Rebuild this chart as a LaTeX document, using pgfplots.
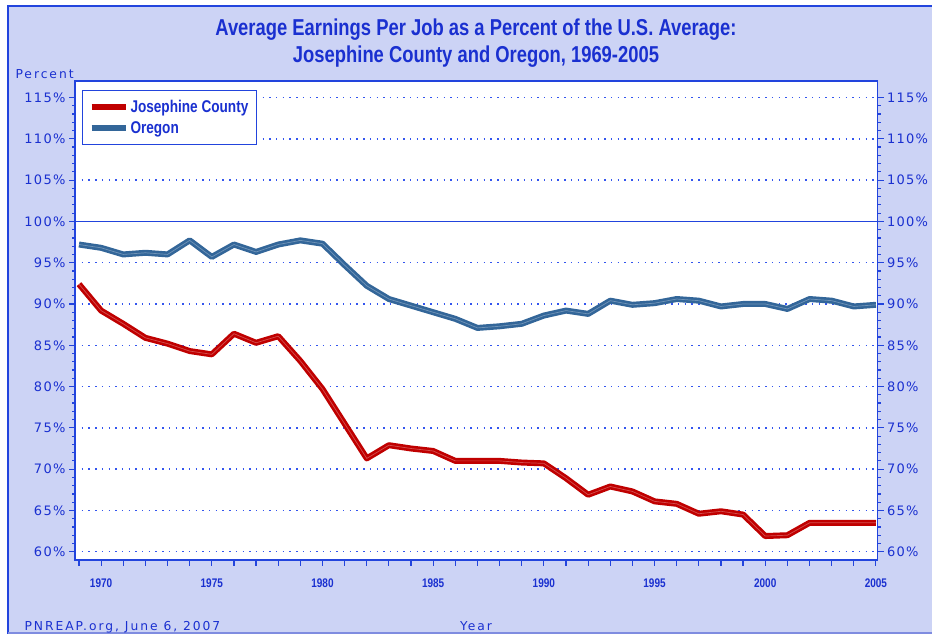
\documentclass[border=0pt]{standalone}
\usepackage{pgfplots}
\pgfplotsset{compat=1.18}
\usepackage{fontspec}
\setmainfont{DejaVu Sans}
\newfontfamily\condfont[FakeStretch=0.8]{Liberation Sans}
\newfontfamily\tickfont[LetterSpace=10]{DejaVu Sans}
\newfontfamily\footfont[LetterSpace=16]{DejaVu Sans}
\definecolor{bg}{HTML}{CCD3F5}
\definecolor{txtblue}{HTML}{1A30D0}
\definecolor{axblue}{HTML}{2244DD}
\definecolor{josred}{HTML}{C00000}
\definecolor{orblue}{HTML}{336699}
\definecolor{gridblue}{HTML}{3355EE}
\definecolor{botline}{HTML}{7F8CE0}
\begin{document}
\begin{tikzpicture}[x=1pt,y=1pt]
\useasboundingbox (0,0) rectangle (932,634);
\fill[white] (0,0) rectangle (932,634);
\fill[bg] (7,0) rectangle (932,629);
\draw[axblue, line width=2pt] (8,0) -- (8,628) -- (932,628);
\draw[botline, line width=2pt] (8,1) -- (932,1);
% titles
\node[anchor=base, text=txtblue, font=\condfont\bfseries\fontsize{23}{23}\selectfont] at (476,634-36) {Average Earnings Per Job as a Percent of the U.S. Average:};
\node[anchor=base, text=txtblue, font=\condfont\bfseries\fontsize{23}{23}\selectfont] at (476,634-63) {Josephine County and Oregon, 1969-2005};
\node[anchor=base west, text=txtblue, font=\footfont\fontsize{12.3}{12.3}\selectfont] at (12,634-79) {Percent};
\node[anchor=base west, text=txtblue, font=\footfont\fontsize{12.3}{12.3}\selectfont] at (21,634-631) {PNREAP.org, June 6, 2007};
\node[anchor=base, text=txtblue, font=\footfont\fontsize{12.3}{12.3}\selectfont] at (476,634-631) {Year};
\begin{axis}[
  at={(75pt,74pt)}, anchor=south west, scale only axis,
  width=802.5pt, height=479pt,
  xmin=1968.82, xmax=2005.07, ymin=59, ymax=117,
  axis background/.style={fill=white},
  axis line style={axblue, line width=1.2pt},
  xtick={1969,...,2005},
  xticklabels={,1970,,,,,1975,,,,,1980,,,,,1985,,,,,1990,,,,,1995,,,,,2000,,,,,2005},
  ytick={60,65,...,115},
  yticklabels={60\%,65\%,70\%,75\%,80\%,85\%,90\%,95\%,100\%,105\%,110\%,115\%},
  minor y tick num=4,
  xtick pos=bottom, ytick pos=left, tick align=outside,
  major tick length=6pt, minor tick length=3pt,
  tick style={axblue, line width=1.2pt},
  ymajorgrids,
  major grid style={gridblue, line width=1.4pt, dash pattern=on 1.4pt off 5.3pt},
  extra y ticks={100}, extra y tick labels={},
  extra y tick style={grid=major, major grid style={axblue, solid, line width=1.2pt}},
  x tick label style={text=txtblue, font=\condfont\bfseries\fontsize{12.5}{12.5}\selectfont, yshift=-9pt},
  y tick label style={text=txtblue, font=\tickfont\fontsize{13}{13}\selectfont},
  legend style={at={(7pt,470pt)}, anchor=north west, draw=axblue, line width=1pt,
    fill=white, text=txtblue, font=\condfont\bfseries\fontsize{17}{17}\selectfont,
    inner xsep=6pt, inner ysep=8pt, row sep=3pt, legend cell align=left},
  legend image code/.code={\draw[#1, line width=6pt, opacity=1] (0pt,0pt) -- (34pt,0pt);},
]
\addplot[josred, line width=6pt, line join=round] coordinates {
(1969,92.4) (1970,89.2) (1971,87.6) (1972,85.9) (1973,85.2) (1974,84.3) (1975,83.9)
(1976,86.4) (1977,85.3) (1978,86.1) (1979,83.1) (1980,79.7) (1981,75.5) (1982,71.3)
(1983,72.9) (1984,72.5) (1985,72.2) (1986,71.0) (1987,71.0) (1988,71.0) (1989,70.8)
(1990,70.7) (1991,68.9) (1992,66.9) (1993,67.9) (1994,67.3) (1995,66.1) (1996,65.8)
(1997,64.6) (1998,64.9) (1999,64.5) (2000,61.9) (2001,62.0) (2002,63.5) (2003,63.5)
(2004,63.5) (2005,63.5)};
\addlegendentry{Josephine County}
\addplot[orblue, line width=6pt, line join=round] coordinates {
(1969,97.2) (1970,96.8) (1971,96.0) (1972,96.2) (1973,96.0) (1974,97.7) (1975,95.7)
(1976,97.2) (1977,96.3) (1978,97.2) (1979,97.7) (1980,97.3) (1981,94.7) (1982,92.2)
(1983,90.6) (1984,89.8) (1985,89.0) (1986,88.2) (1987,87.1) (1988,87.3) (1989,87.6)
(1990,88.6) (1991,89.2) (1992,88.8) (1993,90.4) (1994,89.9) (1995,90.1) (1996,90.6)
(1997,90.4) (1998,89.7) (1999,90.0) (2000,90.0) (2001,89.4) (2002,90.6) (2003,90.4)
(2004,89.7) (2005,89.9)};
\addlegendentry{Oregon}
\addplot[white, opacity=0.3, line width=0.7pt, forget plot] coordinates {
(1969,92.4) (1970,89.2) (1971,87.6) (1972,85.9) (1973,85.2) (1974,84.3) (1975,83.9)
(1976,86.4) (1977,85.3) (1978,86.1) (1979,83.1) (1980,79.7) (1981,75.5) (1982,71.3)
(1983,72.9) (1984,72.5) (1985,72.2) (1986,71.0) (1987,71.0) (1988,71.0) (1989,70.8)
(1990,70.7) (1991,68.9) (1992,66.9) (1993,67.9) (1994,67.3) (1995,66.1) (1996,65.8)
(1997,64.6) (1998,64.9) (1999,64.5) (2000,61.9) (2001,62.0) (2002,63.5) (2003,63.5)
(2004,63.5) (2005,63.5)};
\addplot[white, opacity=0.3, line width=0.7pt, forget plot] coordinates {
(1969,97.2) (1970,96.8) (1971,96.0) (1972,96.2) (1973,96.0) (1974,97.7) (1975,95.7)
(1976,97.2) (1977,96.3) (1978,97.2) (1979,97.7) (1980,97.3) (1981,94.7) (1982,92.2)
(1983,90.6) (1984,89.8) (1985,89.0) (1986,88.2) (1987,87.1) (1988,87.3) (1989,87.6)
(1990,88.6) (1991,89.2) (1992,88.8) (1993,90.4) (1994,89.9) (1995,90.1) (1996,90.6)
(1997,90.4) (1998,89.7) (1999,90.0) (2000,90.0) (2001,89.4) (2002,90.6) (2003,90.4)
(2004,89.7) (2005,89.9)};
\end{axis}
\begin{axis}[
  at={(75pt,74pt)}, anchor=south west, scale only axis,
  width=802.5pt, height=479pt,
  xmin=1968.82, xmax=2005.07, ymin=59, ymax=117,
  axis x line=none, axis y line*=right,
  axis line style={axblue, line width=1.2pt, -},
  ytick={60,65,...,115},
  yticklabels={60\%,65\%,70\%,75\%,80\%,85\%,90\%,95\%,100\%,105\%,110\%,115\%},
  minor y tick num=4,
  ytick pos=right, yticklabel pos=right, tick align=outside,
  major tick length=6pt, minor tick length=3pt,
  tick style={axblue, line width=1.2pt},
  y tick label style={text=txtblue, font=\tickfont\fontsize{13}{13}\selectfont},
]
\end{axis}
\end{tikzpicture}
\end{document}
